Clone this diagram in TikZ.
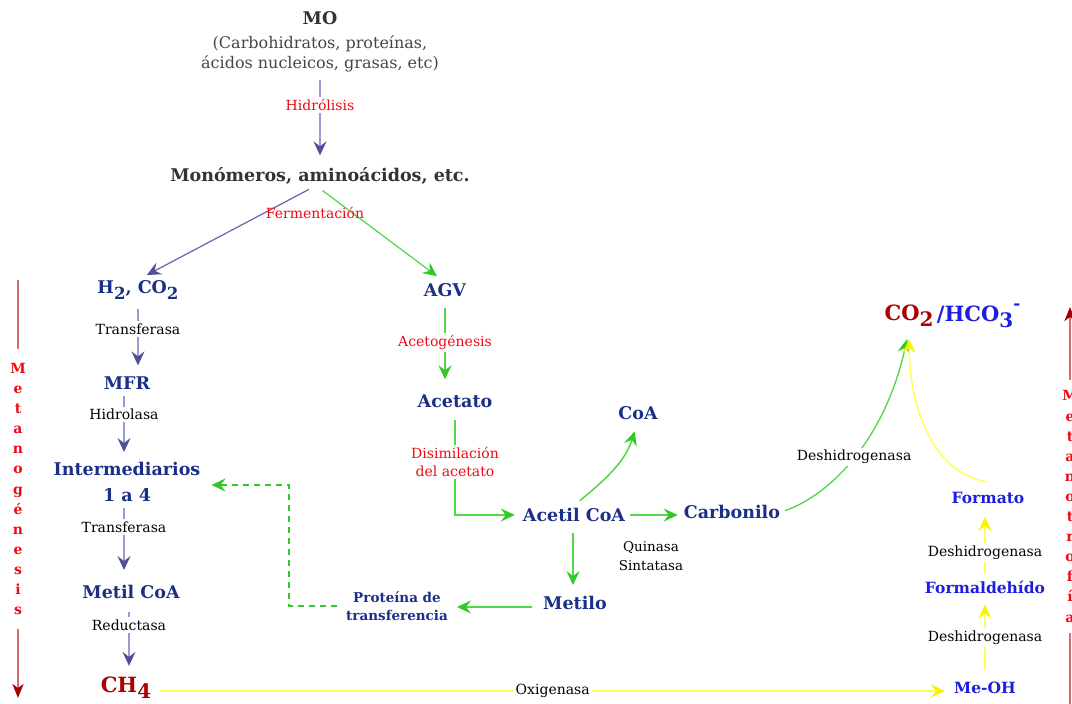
\documentclass[tikz,border=0pt]{standalone}
\usepackage{fontspec}
\usepackage{graphicx}
\setmainfont{DejaVu Serif}
\usetikzlibrary{arrows.meta}
\definecolor{navy}{RGB}{27,47,135}
\definecolor{bblue}{RGB}{30,30,220}
\definecolor{dred}{RGB}{170,0,0}
\definecolor{lred}{RGB}{240,10,20}
\definecolor{dgray}{RGB}{51,51,51}
\definecolor{mgray}{RGB}{70,70,70}
\definecolor{lav}{RGB}{155,155,210}
\definecolor{purp}{RGB}{80,80,150}
\definecolor{purl}{RGB}{100,100,175}
\definecolor{grn}{RGB}{80,215,70}
\definecolor{grnd}{RGB}{50,200,40}
\definecolor{yel}{RGB}{255,255,90}
\definecolor{yeld}{RGB}{245,245,0}
\definecolor{rline}{RGB}{210,110,110}
\definecolor{rtip}{RGB}{160,0,0}
\newcommand\myfs[1]{\fontsize{#1}{#1}\selectfont}
\newcommand\lowsub[1]{\raisebox{-0.3em}{\scalebox{0.95}{#1}}}
\newcommand\upsup[1]{\raisebox{0.55em}{\scalebox{0.8}{#1}}}
\begin{document}
\begin{tikzpicture}[x=1pt,y=-1pt,
  main/.style={font=\myfs{17.5}\bfseries, text=navy, inner sep=1pt},
  bb/.style={font=\myfs{15.5}\bfseries, text=bblue, inner sep=1pt},
  grayb/.style={font=\myfs{17.5}\bfseries, text=dgray, inner sep=1pt},
  grayr/.style={font=\fontsize{16}{20}\selectfont, text=mgray, inner sep=1pt, align=center},
  lab/.style={font=\myfs{14}, text=black, inner sep=2.5pt, fill=white},
  rlab/.style={font=\fontsize{14}{18}\selectfont, text=lred, inner sep=2.5pt, fill=white, align=center},
  vlet/.style={font=\fontsize{14}{20.1}\selectfont\bfseries, text=lred, align=center, fill=white},
  tip/.style={-{Stealth[length=14pt,width=13pt,inset=5pt,color=#1]}},
  parr/.style={draw=lav, line width=1.6pt, tip=purp},
  garr/.style={draw=grn, line width=1.5pt, tip=grnd},
  gdash/.style={draw=grnd, line width=2pt, dash pattern=on 6pt off 5pt, tip=grnd},
  yarr/.style={draw=yel, line width=2pt, tip=yeld},
  rarr/.style={draw=rline, line width=2pt, -{Stealth[length=14pt,width=11pt,inset=4pt,color=rtip]}}
]
\useasboundingbox (0,0) rectangle (1072,704);
\fill[white] (0,0) rectangle (1072,704);

% nodes
\node[grayb] (mo) at (320,18) {MO};
\node[grayr] (mos) at (320,54) {(Carbohidratos, proteínas,\\ácidos nucleicos, grasas, etc)};
\node[grayb] (mon) at (320,176) {Monómeros, aminoácidos, etc.};
\node[main] (h2) at (138,290) {H\lowsub{2}, CO\lowsub{2}};
\node[main] (agv) at (445,290) {AGV};
\node[main] (mfr) at (127,383) {MFR};
\node[main, align=center, font=\fontsize{17.5}{26}\selectfont\bfseries] (int) at (127,482) {Intermediarios\\1 a 4};
\node[main] (metc) at (131,592) {Metil CoA};
\node[main, font=\myfs{21}\bfseries, text=dred] (ch4) at (126,688) {CH\lowsub{4}};
\node[main] (acet) at (455,401) {Acetato};
\node[main] (acoa) at (574,515) {Acetil CoA};
\node[main] (coa) at (638,413) {CoA};
\node[main] (carb) at (732,512) {Carbonilo};
\node[font=\fontsize{13.5}{19}\selectfont, align=center, inner sep=1pt] (quin) at (651,556) {Quinasa\\Sintatasa};
\node[main] (metilo) at (575,603) {Metilo};
\node[main, font=\fontsize{13.5}{18}\selectfont\bfseries, align=center] (prot) at (397,606) {Proteína de\\transferencia};
\node[bb] (meoh) at (985,688) {Me-OH};
\node[bb] (fald) at (985,587) {Formaldehído};
\node[bb] (form) at (988,498) {Formato};
\node[main, font=\myfs{21}\bfseries, text=dred] (co2) at (909,316) {CO\lowsub{2}};
\node[main, font=\myfs{21}\bfseries, text=bblue, anchor=west, inner sep=0pt] (hco) at ([xshift=2pt]co2.east) {/HCO\lowsub{3}\upsup{-}};

% upper part
\draw[parr, shorten <=7pt, shorten >=11pt] (mos.south) -- node[rlab, pos=0.34] {Hidrólisis} (mon.north);
\draw[draw=purl, line width=1.2pt, tip=purp, shorten <=8pt, shorten >=10pt] ([xshift=-4pt]mon.south) -- (h2.north);
\draw[draw=grn, line width=1.2pt, tip=grnd, shorten <=8pt, shorten >=10pt] ([xshift=-4pt]mon.south) -- (agv.north);
\node[font=\myfs{14}, text=lred, inner sep=0pt] (ferm) at (315,213) {Fermentación};

% left chain
\draw[parr, shorten <=9pt, shorten >=10pt] (h2.south) -- node[lab, pos=0.38] {Transferasa} (h2.south |- mfr.north);
\draw[parr, shorten <=5pt, shorten >=9pt] ([xshift=-3pt]mfr.south) -- node[lab, pos=0.34] {Hidrolasa} ([xshift=-3pt]mfr.south |- int.north);
\draw[parr, shorten <=5pt, shorten >=14pt] ([xshift=-3pt]int.south) -- node[lab, pos=0.3] {Transferasa} ([xshift=-3pt]int.south |- metc.north);
\draw[parr, shorten <=12pt, shorten >=10pt] ([xshift=-2pt]metc.south) -- node[lab, pos=0.33] {Reductasa} ([xshift=-2pt]metc.south |- ch4.north);

% acetate path
\draw[garr, shorten <=10pt, shorten >=14pt] (agv.south) -- node[rlab, pos=0.47] {Acetogénesis} (agv.south |- acet.north);
\draw[garr, shorten <=11pt, shorten >=7pt] (acet.south) |- node[rlab, pos=0.25] {Disimilación\\del acetato} (acoa.west);
\draw[garr, shorten <=10pt, shorten >=11pt] ([xshift=-2pt]acoa.north) .. controls (605,480) and (625,462) .. (coa.south);
\draw[garr, shorten <=4pt, shorten >=5pt] (acoa.east) -- (acoa.east -| carb.west);
\draw[garr, shorten <=10pt, shorten >=10pt] ([xshift=-1pt]acoa.south) -- ([xshift=-1pt]acoa.south |- metilo.north);
\draw[garr, shorten <=10pt, shorten >=8pt] ([yshift=-4pt]metilo.west) -- ([yshift=-4pt]metilo.west -| prot.east);
\coordinate (dc) at (289,485);
\draw[gdash, shorten <=8pt, shorten >=10pt] (prot.west) -| (dc) -- (int.east |- dc);

% right part
\draw[draw=grn, line width=1.3pt, tip=grnd, shorten <=4pt] (carb.east) .. controls (830,495) and (885,440) .. node[lab, pos=0.5] {Deshidrogenasa} ([yshift=-11pt,xshift=-2pt]co2.south);
\draw[yarr, line width=1.5pt] ([yshift=9pt]form.north) .. controls (940,475) and (910,420) .. ([yshift=-11pt]co2.south);
\draw[yarr, shorten <=12pt, shorten >=10pt] (meoh.north) -- node[lab, pos=0.5] {Deshidrogenasa} (meoh.north |- fald.south);
\draw[yarr, shorten <=6pt, shorten >=12pt] (fald.north) -- node[lab, pos=0.36] {Deshidrogenasa} (fald.north |- form.south);
\draw[yarr, shorten <=8pt, shorten >=8pt] ([yshift=-3pt]ch4.east) -- node[lab, pos=0.5] {Oxigenasa} ([yshift=-3pt]ch4.east -| meoh.west);

% side arrows
\coordinate (ltop) at (18,280);
\coordinate (lbot) at (18,698);
\draw[rarr] (ltop) -- node[vlet, inner ysep=14pt, inner xsep=2pt] (lmet) {M\\e\\t\\a\\n\\o\\g\\é\\n\\e\\s\\i\\s} (lbot);
\coordinate (rbot) at (1070,706);
\coordinate (rtop) at (1070,307);
\draw[rarr] (rbot) -- node[vlet, inner ysep=11pt, inner xsep=2pt] (rmet) {M\\e\\t\\a\\n\\o\\t\\r\\o\\f\\í\\a} (rtop);
\end{tikzpicture}
\end{document}
